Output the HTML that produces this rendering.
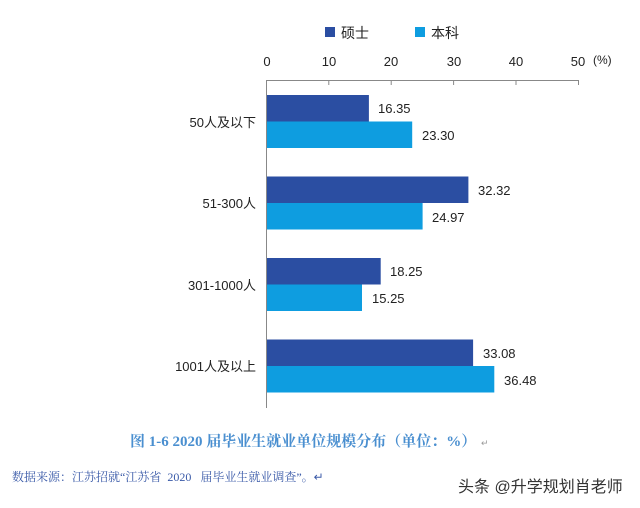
<!DOCTYPE html>
<html><head><meta charset="utf-8"><style>
body{margin:0;background:#fff;}
svg{display:block;font-family:"Liberation Sans","Noto Sans CJK SC",sans-serif;}
</style></head><body>
<svg width="640" height="508" viewBox="0 0 640 508">
<rect x="325" y="27" width="10" height="10" fill="#2b4ea2"/>
<text x="341" y="38" font-size="14" fill="#222">硕士</text>
<rect x="415" y="27" width="10" height="10" fill="#0e9de0"/>
<text x="431" y="38" font-size="14" fill="#222">本科</text>
<g font-size="13" fill="#222" text-anchor="middle">
<text x="267" y="66">0</text><text x="329" y="66">10</text><text x="391" y="66">20</text><text x="454" y="66">30</text><text x="516" y="66">40</text><text x="578" y="66">50</text>
</g>
<text x="593" y="64" font-size="12" fill="#222">(%)</text>
<g stroke="#888" stroke-width="1">
<line x1="266.5" y1="80.5" x2="578.5" y2="80.5"/>
<line x1="266.5" y1="80" x2="266.5" y2="408"/>
<line x1="328.8" y1="80" x2="328.8" y2="85"/><line x1="391.2" y1="80" x2="391.2" y2="85"/><line x1="453.6" y1="80" x2="453.6" y2="85"/><line x1="516" y1="80" x2="516" y2="85"/><line x1="578.5" y1="80" x2="578.5" y2="85"/>
</g>
<g>
<rect x="267" y="95" width="101.9" height="26.5" fill="#2b4ea2"/>
<rect x="267" y="121.5" width="145.2" height="26.5" fill="#0e9de0"/>
<rect x="267" y="176.5" width="201.4" height="26.5" fill="#2b4ea2"/>
<rect x="267" y="203" width="155.6" height="26.5" fill="#0e9de0"/>
<rect x="267" y="258" width="113.7" height="26.5" fill="#2b4ea2"/>
<rect x="267" y="284.5" width="95" height="26.5" fill="#0e9de0"/>
<rect x="267" y="339.5" width="206.1" height="26.5" fill="#2b4ea2"/>
<rect x="267" y="366" width="227.3" height="26.5" fill="#0e9de0"/>
</g>
<g font-size="13" fill="#222">
<text x="378" y="113">16.35</text><text x="422" y="140">23.30</text>
<text x="478" y="195">32.32</text><text x="432" y="222">24.97</text>
<text x="390" y="276">18.25</text><text x="372" y="303">15.25</text>
<text x="483" y="358">33.08</text><text x="504" y="385">36.48</text>
</g>
<g font-size="13" fill="#222" text-anchor="end">
<text x="256" y="127">50人及以下</text>
<text x="256" y="208">51-300人</text>
<text x="256" y="290">301-1000人</text>
<text x="256" y="371">1001人及以上</text>
</g>
<text x="130" y="446" font-size="15" font-weight="bold" fill="#4a8fd0" font-family="Liberation Serif,'Noto Serif CJK SC',serif">图 1-6 2020 届毕业生就业单位规模分布（单位：%）</text>
<text x="481" y="446" font-size="9" fill="#999">↵</text>
<text x="12" y="481" font-size="12" fill="#3a5aa8" style="white-space:pre" font-family="Liberation Serif,'Noto Serif CJK SC',serif">数据来源：江苏招就“江苏省  2020   届毕业生就业调查”。↵</text>
<text x="458" y="492" font-size="16" fill="#333">头条 @升学规划肖老师</text>
</svg>
</body></html>
